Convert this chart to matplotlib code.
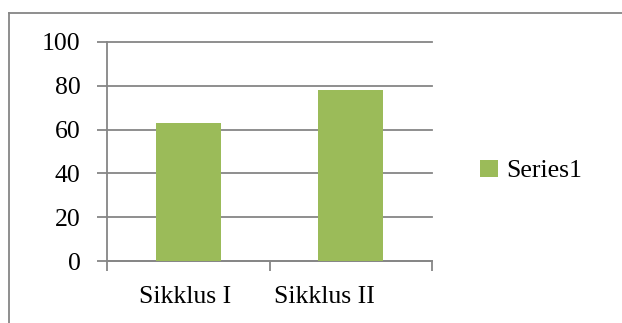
import matplotlib
matplotlib.use("Agg")
import matplotlib.pyplot as plt
from matplotlib.lines import Line2D

categories = ["Sikklus I", "Sikklus II"]
values = [63, 78]
yticks = [0, 20, 40, 60, 80, 100]
series_name = "Series1"

plt.rcParams['font.family'] = ['Liberation Serif', 'DejaVu Serif']

W, H = 622, 323
FS = 18.5
fig = plt.figure(figsize=(W / 100, H / 100), dpi=100)

grid_c = "#868686"
bar_c = "#9BBB59"

# outer chart border (cropped)
fig.add_artist(Line2D([8.5 / W, 1.01], [1 - 12.5 / H, 1 - 12.5 / H],
                      transform=fig.transFigure, color=grid_c, lw=1.3))
fig.add_artist(Line2D([8.5 / W, 8.5 / W], [1 - 12.5 / H, -0.01],
                      transform=fig.transFigure, color=grid_c, lw=1.3))

ax = fig.add_axes([107 / W, 1 - 261 / H, 325 / W, 219 / H])
x = list(range(len(categories)))
ax.bar(x, values, width=0.4, color=bar_c, label=series_name, zorder=3)
ax.set_xlim(-0.5, len(categories) - 0.5)
ax.set_ylim(0, 100)
ax.set_yticks(yticks)
ax.set_yticklabels([str(v) for v in yticks])
for v in yticks:
    ax.axhline(v, color=grid_c, lw=1.3, zorder=1, clip_on=False)

# category boundary ticks
ax.set_xticks([-0.5, 0.5, 1.5])
ax.set_xticklabels([])
# label positions as rendered in the reference (slightly left of centre)
label_offsets = [-0.02, -0.16]
ax.set_xticks([i + o for i, o in zip(x, label_offsets)], minor=True)
ax.set_xticklabels(categories, minor=True)
ax.tick_params(axis='x', which='minor', length=0, pad=18, labelsize=FS)
ax.tick_params(axis='x', which='major', length=7, width=1.3, color=grid_c)
ax.tick_params(axis='y', length=7, width=1.3, color=grid_c, pad=12, labelsize=FS)

for s in ['top', 'right']:
    ax.spines[s].set_visible(False)
for s in ['left', 'bottom']:
    ax.spines[s].set_color(grid_c)
    ax.spines[s].set_linewidth(1.3)

leg = fig.legend(loc='center left', bbox_to_anchor=(470 / W, 1 - 171 / H),
                 frameon=False, fontsize=FS, handlelength=0.7, handleheight=0.7,
                 handletextpad=0.3, borderaxespad=0)

fig.savefig("out.png", dpi=100)
